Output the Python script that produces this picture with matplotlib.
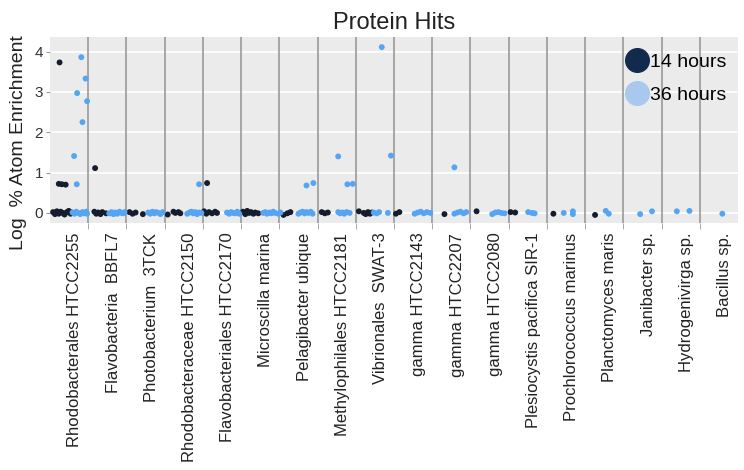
import matplotlib
matplotlib.use("Agg")
import matplotlib.pyplot as plt
from matplotlib.lines import Line2D

plt.rcParams['font.family'] = ['Liberation Sans', 'DejaVu Sans']

species = [
    "Rhodobacterales HTCC2255", "Flavobacteria  BBFL7", "Photobacterium  3TCK",
    "Rhodobacteraceae HTCC2150", "Flavobacteriales HTCC2170", "Microscilla marina",
    "Pelagibacter ubique", "Methylophilales HTCC2181", "Vibrionales  SWAT-3",
    "gamma HTCC2143", "gamma HTCC2207", "gamma HTCC2080",
    "Plesiocystis pacifica SIR-1", "Prochlorococcus marinus", "Planctomyces maris",
    "Janibacter sp.", "Hydrogenivirga sp.", "Bacillus sp.",
]

# position of each protein inside its species column (0..1), one list per species
h14_pos = [
    [0.08, 0.13, 0.18, 0.23, 0.28, 0.33, 0.38, 0.44, 0.49, 0.54, 0.56, 0.23, 0.31, 0.41, 0.25],
    [0.16, 0.21, 0.26, 0.32, 0.37, 0.47, 0.18],
    [0.08, 0.16, 0.24, 0.43],
    [0.08, 0.23, 0.28, 0.36, 0.41],
    [0.03, 0.09, 0.16, 0.24, 0.32, 0.37, 0.11],
    [0.05, 0.11, 0.16, 0.21, 0.26, 0.32, 0.37, 0.45],
    [0.11, 0.21, 0.29],
    [0.11, 0.19, 0.27],
    [0.08, 0.21, 0.26, 0.32, 0.37, 0.42],
    [0.05, 0.14],
    [0.32],
    [0.16],
    [0.05, 0.17],
    [0.17],
    [0.26],
    [], [], [],
]
h14_val = [
    [0.02, -0.03, 0.04, -0.02, 0.03, 0.00, -0.04, 0.02, 0.05, -0.02, 0.01, 0.72, 0.71, 0.70, 3.73],
    [0.03, -0.02, 0.01, -0.03, 0.02, -0.01, 1.11],
    [0.02, -0.02, 0.01, -0.03],
    [-0.04, 0.03, 0.00, 0.02, -0.01],
    [0.04, -0.02, 0.02, -0.01, 0.03, 0.00, 0.74],
    [0.03, -0.03, 0.05, 0.00, 0.02, -0.02, 0.01, -0.01],
    [-0.05, -0.01, 0.02],
    [0.02, -0.01, 0.01],
    [0.04, 0.00, -0.03, 0.02, -0.02, 0.01],
    [-0.02, 0.02],
    [-0.03],
    [0.04],
    [0.02, 0.01],
    [-0.02],
    [-0.05],
    [], [], [],
]

h36_pos = [
    [0.59, 0.64, 0.69, 0.74, 0.79, 0.85, 0.90, 0.95, 0.97, 0.82, 0.93, 0.71, 0.97, 0.85, 0.63, 0.70],
    [0.55, 0.61, 0.66, 0.71, 0.76, 0.82, 0.87, 0.92, 0.95],
    [0.57, 0.62, 0.68, 0.73, 0.78, 0.84, 0.89, 0.95],
    [0.59, 0.65, 0.70, 0.75, 0.80, 0.85, 0.90, 0.96, 0.90],
    [0.63, 0.69, 0.74, 0.79, 0.84, 0.90, 0.95],
    [0.58, 0.63, 0.68, 0.74, 0.79, 0.84, 0.89, 0.97],
    [0.03, 0.50, 0.55, 0.61, 0.66, 0.71, 0.76, 0.82, 0.87, 0.71, 0.89],
    [0.54, 0.59, 0.65, 0.70, 0.76, 0.84, 0.54, 0.78, 0.92],
    [0.47, 0.55, 0.61, 0.84, 0.68, 0.92],
    [0.54, 0.62, 0.70, 0.78, 0.86, 0.95],
    [0.58, 0.66, 0.74, 0.82, 0.89, 0.58],
    [0.57, 0.65, 0.73, 0.81, 0.89],
    [0.51, 0.61, 0.68],
    [0.44, 0.68, 0.68],
    [0.54, 0.62],
    [0.44, 0.75],
    [0.40, 0.73],
    [0.59],
]
h36_val = [
    [0.01, -0.02, 0.03, 0.00, -0.03, 0.02, -0.01, 0.03, -0.02, 3.86, 3.33, 2.97, 2.77, 2.25, 1.41, 0.71],
    [-0.01, 0.02, -0.03, 0.01, -0.02, 0.03, 0.00, -0.01, 0.02],
    [0.01, -0.02, 0.03, -0.01, 0.02, 0.00, -0.03, 0.02],
    [-0.02, 0.01, 0.03, -0.01, 0.02, -0.03, 0.01, 0.00, 0.71],
    [0.01, -0.02, 0.02, 0.00, -0.01, 0.03, -0.02],
    [0.00, 0.02, -0.02, 0.01, -0.01, 0.03, 0.00, -0.02],
    [0.01, -0.02, 0.01, 0.03, -0.01, 0.02, 0.00, 0.03, -0.02, 0.68, 0.74],
    [0.02, -0.01, 0.01, -0.02, 0.02, 0.00, 1.40, 0.71, 0.72],
    [0.01, -0.01, 0.02, 0.00, 4.11, 1.42],
    [-0.02, 0.01, 0.03, -0.01, 0.02, 0.00],
    [-0.02, 0.01, 0.03, -0.01, 0.02, 1.13],
    [-0.03, 0.01, 0.02, 0.00, -0.01],
    [0.02, 0.00, -0.01],
    [0.00, 0.04, -0.03],
    [0.05, -0.02],
    [-0.03, 0.04],
    [0.04, 0.05],
    [-0.02],
]


def flatten(pos, val):
    xs, ys = [], []
    for i, (p, v) in enumerate(zip(pos, val)):
        xs += [i + f for f in p]
        ys += v
    return xs, ys


x14, y14 = flatten(h14_pos, h14_val)
x36, y36 = flatten(h36_pos, h36_val)

fig = plt.figure(figsize=(7.44, 4.70), dpi=100)
ax = fig.add_axes([50 / 744, 1 - 223 / 470, 688 / 744, 186 / 470])
ax.set_facecolor('#ebebeb')
for s in ax.spines.values():
    s.set_visible(False)

n = len(species)
ax.set_xlim(0, n)
ax.set_ylim(-0.25, 4.36)
ax.set_yticks([0, 1, 2, 3, 4])
ax.yaxis.grid(True, color='white', lw=1.2)
ax.set_axisbelow(True)
for k in range(1, n):
    ax.axvline(k, color='#9a9a9a', lw=1.2, zorder=1)

ax.scatter(x14, y14, s=18, color='#141c2e', edgecolor='none', zorder=3)
ax.scatter(x36, y36, s=18, color='#55a5f2', edgecolor='none', zorder=3)

ax.set_xticks([i + 0.65 for i in range(n)])
ax.set_xticklabels(species, rotation=90, fontsize=12, color='#222222')
ax.tick_params(axis='x', length=0, pad=7)
ax.set_xticks(range(1, n), minor=True)
ax.tick_params(axis='x', which='minor', length=4, color='#9a9a9a')
ax.tick_params(axis='y', labelsize=11, labelcolor='#333333', length=3, color='#9a9a9a', pad=2)

ax.set_ylabel('Log  % Atom Enrichment', fontsize=14, color='#222222')
ax.yaxis.set_label_coords(-0.033, 0.43)
ax.set_title('Protein Hits', fontsize=17, pad=6, color='#222222')

handles = [
    Line2D([], [], marker='o', ls='', markersize=17, color='#122a4c', label='14 hours'),
    Line2D([], [], marker='o', ls='', markersize=17, color='#a8c8ef', label='36 hours'),
]
ax.legend(handles=handles, loc='upper left', bbox_to_anchor=(0.839, 0.912),
          frameon=False, fontsize=14, borderpad=0, handlelength=1.0,
          handletextpad=0.15, labelspacing=0.8, borderaxespad=0)

fig.savefig('out.png', dpi=100)
